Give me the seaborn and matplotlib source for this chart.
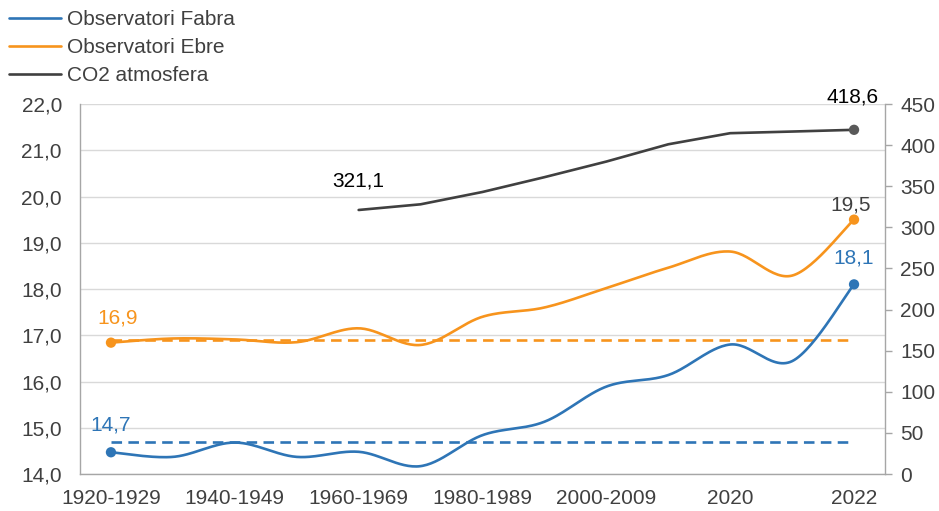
import numpy as np
import pandas as pd
import matplotlib
matplotlib.use("Agg")
import matplotlib.pyplot as plt
import seaborn as sns
from matplotlib.lines import Line2D

categories = ["1920-1929", "1930-1939", "1940-1949", "1950-1959", "1960-1969",
              "1970-1979", "1980-1989", "1990-1999", "2000-2009", "2010-2019",
              "2020", "2021", "2022"]
fabra = [14.47, 14.37, 14.68, 14.37, 14.48, 14.17, 14.84, 15.13, 15.89, 16.14, 16.80, 16.44, 18.1]
ebre = [16.84, 16.93, 16.91, 16.85, 17.15, 16.79, 17.40, 17.60, 18.02, 18.46, 18.81, 18.29, 19.5]
co2_categories = ["1960-1969", "1970-1979", "1980-1989", "1990-1999", "2000-2009",
                  "2010-2019", "2020", "2021", "2022"]
co2 = [321.1, 328.0, 343.0, 361.0, 380.0, 401.0, 414.5, 416.5, 418.6]
fabra_ref = 14.7
ebre_ref = 16.9
tick_labels = ["1920-1929", "1940-1949", "1960-1969", "1980-1989", "2000-2009", "2020", "2022"]
left_ticks = [14, 15, 16, 17, 18, 19, 20, 21, 22]
right_ticks = [0, 50, 100, 150, 200, 250, 300, 350, 400, 450]

BLUE = "#2E75B6"
ORANGE = "#F7941D"
DARK = "#404040"
GREY_MARK = "#595959"
TXT = "#404040"

sns.set_theme(style="white")
plt.rcParams["font.family"] = ["Liberation Sans", "DejaVu Sans"]
plt.rcParams["font.size"] = 15


def smooth(xs, ys, n=30):
    """Excel-style smoothed line rendering (Catmull-Rom Bezier) through the data points."""
    xs = np.asarray(xs, float)
    ys = np.asarray(ys, float)
    P = np.column_stack([xs, ys])
    out = []
    for i in range(len(P) - 1):
        p0 = P[i - 1] if i > 0 else P[i]
        p1 = P[i]
        p2 = P[i + 1]
        p3 = P[i + 2] if i + 2 < len(P) else P[i + 1]
        c1 = p1 + (p2 - p0) / 6.0
        c2 = p2 - (p3 - p1) / 6.0
        t = np.linspace(0, 1, n, endpoint=(i == len(P) - 2))[:, None]
        seg = ((1 - t) ** 3) * p1 + 3 * ((1 - t) ** 2) * t * c1 + 3 * (1 - t) * t ** 2 * c2 + t ** 3 * p2
        out.append(seg)
    out = np.vstack(out)
    return out[:, 0], out[:, 1]


fig = plt.figure(figsize=(9.39, 5.11), dpi=100)
ax = fig.add_axes([80 / 939, 1 - 474 / 511, (885 - 80) / 939, (474 - 104) / 511])
ax2 = ax.twinx()

pos = {c: i for i, c in enumerate(categories)}
x_all = np.arange(len(categories))
LW = 1.9

# reference dashed lines
sns.lineplot(x=[0, len(categories) - 1], y=[fabra_ref, fabra_ref], ax=ax, color=BLUE, lw=LW,
             linestyle=(0, (4.0, 2.4)), legend=False)
sns.lineplot(x=[0, len(categories) - 1], y=[ebre_ref, ebre_ref], ax=ax, color=ORANGE, lw=LW,
             linestyle=(0, (4.0, 2.4)), legend=False)

# smoothed series
fx, fy = smooth(x_all, fabra)
ex, ey = smooth(x_all, ebre)
sns.lineplot(x=fx, y=fy, ax=ax, color=BLUE, lw=LW, sort=False, estimator=None, legend=False)
sns.lineplot(x=ex, y=ey, ax=ax, color=ORANGE, lw=LW, sort=False, estimator=None, legend=False)

# endpoint markers
sns.scatterplot(x=[x_all[0], x_all[-1]], y=[fabra[0], fabra[-1]], ax=ax, color=BLUE,
                s=55, edgecolor="none", zorder=5, legend=False)
sns.scatterplot(x=[x_all[0], x_all[-1]], y=[ebre[0], ebre[-1]], ax=ax, color=ORANGE,
                s=55, edgecolor="none", zorder=5, legend=False)

# CO2 on secondary axis
co2_x = [pos[c] for c in co2_categories]
sns.lineplot(x=co2_x, y=co2, ax=ax2, color=DARK, lw=LW, sort=False, estimator=None, legend=False)
sns.scatterplot(x=[co2_x[-1]], y=[co2[-1]], ax=ax2, color=GREY_MARK, s=55,
                edgecolor="none", zorder=5, legend=False)


def fmt(v):
    return f"{v:.1f}".replace(".", ",")


# data labels
ax.text(0.0, 15.06, fmt(fabra_ref), color=BLUE, ha="center", va="center", fontsize=15)
ax.text(0.1, 17.37, fmt(ebre_ref), color=ORANGE, ha="center", va="center", fontsize=15)
ax.text(11.95, 19.82, fmt(ebre[-1]), color=DARK, ha="center", va="center", fontsize=15)
ax.text(12.0, 18.68, fmt(fabra[-1]), color=BLUE, ha="center", va="center", fontsize=15)
ax2.text(co2_x[0], 356, fmt(co2[0]), color="#000000", ha="center", va="center", fontsize=15)
ax2.text(11.97, 458, fmt(co2[-1]), color="#000000", ha="center", va="center", fontsize=15)

# axes formatting
ax.set_xlim(-0.5, len(categories) - 0.5)
ax.set_ylim(14, 22)
ax2.set_ylim(0, 450)
ax.set_xticks([pos[c] for c in tick_labels])
ax.set_xticklabels(tick_labels)
ax.set_yticks(left_ticks)
ax.set_yticklabels([fmt(v) for v in left_ticks])
ax2.set_yticks(right_ticks)
ax2.set_yticklabels([str(v) for v in right_ticks])
ax.set_xlabel("")
ax.set_ylabel("")
ax2.set_ylabel("")

ax.grid(axis="y", color="#D9D9D9", lw=1.0)
ax.set_axisbelow(True)
for a in (ax, ax2):
    a.spines["top"].set_visible(False)
    for s in ("left", "right", "bottom"):
        a.spines[s].set_color("#A6A6A6")
        a.spines[s].set_linewidth(1.0)
ax2.spines["left"].set_visible(False)
ax2.spines["bottom"].set_visible(False)
ax.spines["right"].set_visible(False)

ax.tick_params(axis="x", length=0, labelsize=15, labelcolor=TXT, pad=10.5)
ax.tick_params(axis="y", length=0, labelsize=15, labelcolor=TXT, pad=13)
ax2.tick_params(axis="y", length=5, width=1.0, color="#A6A6A6", direction="out",
                labelsize=15, labelcolor=TXT, pad=6)

# legend
handles = [Line2D([], [], color=BLUE, lw=LW),
           Line2D([], [], color=ORANGE, lw=LW),
           Line2D([], [], color=DARK, lw=LW)]
fig.legend(handles, ["Observatori Fabra", "Observatori Ebre", "CO2 atmosfera"],
           loc="upper left", bbox_to_anchor=(-0.004, 1.004), frameon=False,
           fontsize=15, handlelength=2.5, handletextpad=0.3, labelspacing=0.42,
           labelcolor=TXT, borderaxespad=0.2)

fig.savefig("out.png", dpi=100, facecolor="white")
